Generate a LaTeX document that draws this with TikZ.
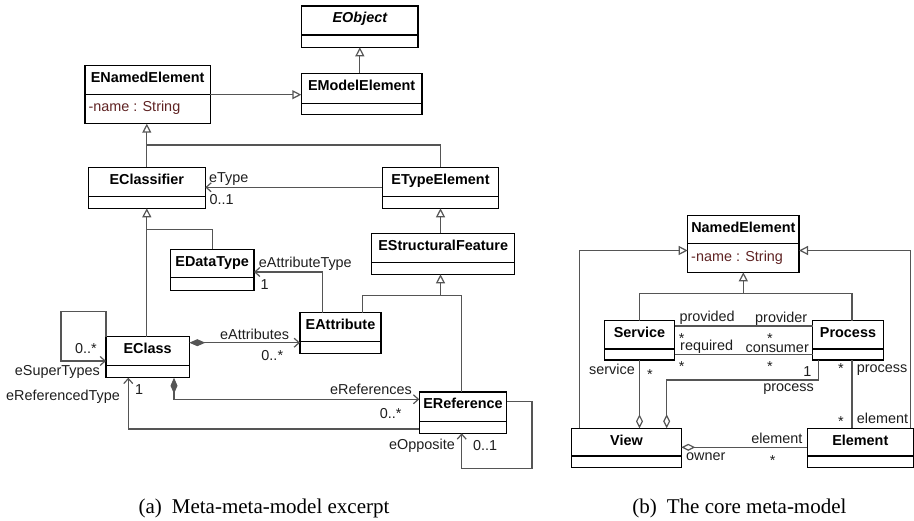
\documentclass[tikz,border=0pt]{standalone}
\usepackage{fontspec}
\setmainfont{Liberation Serif}
\setsansfont{Liberation Sans}
\usetikzlibrary{arrows.meta}

\definecolor{conngray}{RGB}{85,85,85}
\definecolor{attrc}{RGB}{95,35,35}
\definecolor{txt}{RGB}{30,30,30}

\tikzset{
 clsbox/.style={draw=black, line width=1.1pt, inner sep=0pt, outer sep=0pt},
 clsline/.style={draw=black, line width=1.1pt},
 clstitle/.style={font=\sffamily\bfseries\fontsize{14.4}{16}\selectfont, inner sep=0pt, text=black},
 clsattr/.style={font=\sffamily\fontsize{14.4}{16}\selectfont, inner sep=0pt, text=attrc},
 lbl/.style={font=\sffamily\fontsize{14.4}{16}\selectfont, inner sep=0pt, text=txt},
 connl/.style={draw=conngray, line width=1.2pt},
 gen/.style={connl, -{Triangle[length=9pt,width=9pt,fill=white]}},
 nav/.style={connl, -{Straight Barb[length=5pt,width=9pt]}},
 comp/.style={connl, {Diamond[length=16pt,width=7pt]}-{Straight Barb[length=5pt,width=9pt]}},
 agg/.style={connl, -{Diamond[length=14pt,width=7pt,fill=white]}},
 captxt/.style={font=\fontsize{21}{24}\selectfont, inner sep=0pt}
}

% #1 name, #2 x1, #3 y1, #4 x2, #5 ydiv, #6 y2, #7 title
\newcommand\umlcls[7]{%
  \node[clsbox, minimum width={(#4-#2)*1pt}, minimum height={(#6-#3)*1pt}, anchor=north west] (#1) at (#2,#3) {};
  \draw[clsline] (#2,#5) -- (#4,#5);
  \node[clstitle, anchor=base] (#1-t) at ({(#2+#4)/2},{#3+16.8}) {#7};
}
% #1 name, #2 x, #3 ydiv, #4 text
\newcommand\umlattr[4]{%
  \node[clsattr, anchor=base west] (#1-a) at ({#2+3.3},{#3+17.4}) {#4};
}
% star multiplicity centred on its glyph: #1 name, #2 x, #3 y
\newcommand\umlstar[3]{%
  \node[lbl, anchor=center] (#1) at (#2,#3) {\raisebox{-8.3pt}[2.2pt][2.2pt]{*}};
}

\begin{document}
\begin{tikzpicture}[x=1pt,y=-1pt]
\useasboundingbox (0,0) rectangle (914,521);

% ---------- (a) ----------
\umlcls{EObject}{301.7}{6}{418}{35}{47.3}{\itshape EObject}
\umlcls{EModelElement}{301.3}{73.3}{422}{103.3}{114.7}{EModelElement}
\umlcls{ENamedElement}{85}{65.7}{210.3}{94.3}{123.7}{ENamedElement}
\umlattr{ENamedElement}{85}{94.3}{-name : String}
\umlcls{EClassifier}{88.3}{167.3}{205.3}{196.7}{208.3}{EClassifier}
\umlcls{ETypeElement}{382.3}{167.3}{498.7}{196.7}{208.3}{ETypeElement}
\umlcls{EStructuralFeature}{371.7}{233.3}{514.7}{262.7}{274.3}{EStructuralFeature}
\umlcls{EDataType}{170.3}{249.3}{254}{277.7}{290.3}{EDataType}
\umlcls{EAttribute}{300}{312.7}{381}{341.7}{353.3}{EAttribute}
\umlcls{EClass}{106}{336.7}{189.3}{365.7}{377.7}{EClass}
\umlcls{EReference}{419.3}{392}{506.7}{421.7}{433.3}{EReference}

% generalizations
\draw[gen] (EObject.south |- EModelElement.north) -- (EObject.south);
\draw[gen] (ENamedElement.east |- 0,94.7) -- (EModelElement.west |- 0,94.7);
\draw[gen] (EClassifier.north) -- (EClassifier.north |- ENamedElement.south);
\draw[connl] (ETypeElement.north) |- (EClassifier.north |- 0,145);
\draw[gen] (ETypeElement.south |- EStructuralFeature.north) -- (ETypeElement.south);
\draw[gen] (EClassifier.south |- EClass.north) -- (EClassifier.south);
\draw[connl] (EDataType.north) |- (EClassifier.south |- 0,229.7);
\draw[gen] (ETypeElement.south |- 0,295.3) -- (ETypeElement.south |- EStructuralFeature.south);
\draw[connl] (EAttribute.north -| 362.7,0) |- (461.7,295.3) -- (EReference.north -| 461.7,0);

% associations
\draw[nav] (ETypeElement.west |- 0,187.3) -- (EClassifier.east |- 0,187.3);
\node[lbl, anchor=base west] (l-eType) at (209,182.3) {eType};
\node[lbl, anchor=base west] (l-eTypeM) at (209.3,205) {0..1};

\draw[nav] (EAttribute.north -| 322.7,0) |- (EDataType.east |- 0,272);
\node[lbl, anchor=base west] (l-eAT) at (258.7,267.3) {eAttributeType};
\node[lbl, anchor=base west] (l-eATM) at (260.3,289.3) {1};

\draw[nav] (EClass.north west) -- (EClass.north west |- 0,311.7) -| (61,361) -- (EClass.west |- 0,361);
\node[lbl, anchor=base east] (l-eSTM) at (97,353.3) {0..*};
\node[lbl, anchor=base east] (l-eST) at (100,376) {eSuperTypes};

\draw[comp] (EClass.east |- 0,342.7) -- (EAttribute.west |- 0,342.7);
\node[lbl, anchor=base west] (l-eAttr) at (220,339.3) {eAttributes};
\node[lbl, anchor=base east] (l-eAttrM) at (283.3,360.7) {0..*};

\draw[comp] (EClass.south -| 174,0) |- (EReference.west |- 0,399.3);
\node[lbl, anchor=base east] (l-eRef) at (412,395) {eReferences};
\node[lbl, anchor=base east] (l-eRefM) at (401.7,418.3) {0..*};

\draw[nav] (EReference.west |- 0,429) -| (EClass.south -| 128.3,0);
\node[lbl, anchor=base west] (l-eRTM) at (135,394.3) {1};
\node[lbl, anchor=base east] (l-eRT) at (120,400.7) {eReferencedType};

\draw[nav] (EReference.east |- 0,401.7) -| (532,468.3) -| (EReference.south -| 461.7,0);
\node[lbl, anchor=base east] (l-eOpp) at (455,450) {eOpposite};
\node[lbl, anchor=base west] (l-eOppM) at (473,451) {0..1};

% ---------- (b) ----------
\umlcls{NamedElement}{687.7}{215.7}{799}{243.7}{272.3}{NamedElement}
\umlattr{NamedElement}{687.7}{243.7}{-name : String}
\umlcls{Service}{604.3}{320.7}{674.7}{349}{360}{Service}
\umlcls{Process}{812.7}{320.7}{883.3}{349}{360}{Process}
\umlcls{View}{571.7}{428.3}{681.3}{456}{467.7}{View}
\umlcls{Element}{807.3}{428.3}{913.3}{456}{467.7}{Element}

\draw[gen] (NamedElement.south |- 0,293.7) -- (NamedElement.south);
\draw[connl] (Service.north) |- (852,293.7) -- (Process.north -| 852,0);
\draw[gen] (View.north -| 579.3,0) |- (NamedElement.west |- 0,250.5);
\draw[gen] (Element.north -| 910.7,0) |- (NamedElement.east |- 0,250.5);

\draw[connl] (Service.east |- 0,326) -- (Process.west |- 0,326);
\node[lbl, anchor=base west] (l-prvd) at (679.3,321.5) {provided};
\node[lbl, anchor=base west] (l-prvr) at (755,323) {provider};
\umlstar{s1}{681.7}{335.5}
\umlstar{s2}{770}{335.5}

\draw[connl] (Service.east |- 0,354.3) -- (Process.west |- 0,354.3);
\node[lbl, anchor=base west] (l-req) at (680,350.3) {required};
\node[lbl, anchor=base east] (l-cons) at (809,353) {consumer};
\umlstar{s3}{681.7}{363.3}
\umlstar{s4}{770}{363.3}

\draw[agg] (Service.south) -- (View.north -| Service.south);
\node[lbl, anchor=base east] (l-serv) at (635,374.3) {service};
\umlstar{s5}{650}{371.7}

\draw[agg] (Process.south -| 818.7,0) |- (666.7,380) -- (View.north -| 666.7,0);
\node[lbl, anchor=base] (l-p1) at (807.3,376.7) {1};
\node[lbl, anchor=base east] (l-proc1) at (814,391.7) {process};

\draw[connl] (Process.south -| 852,0) -- (Element.north -| 852,0);
\umlstar{s6}{841}{365.3}
\node[lbl, anchor=base west] (l-proc2) at (856.7,372.7) {process};
\umlstar{s7}{841}{418.3}
\node[lbl, anchor=base west] (l-elem1) at (856.7,423.3) {element};

\draw[agg] (Element.west |- 0,447.3) -- (View.east |- 0,447.3);
\node[lbl, anchor=base east] (l-elem2) at (802.7,443.3) {element};
\node[lbl, anchor=base west] (l-own) at (686,460.7) {owner};
\umlstar{s8}{772.7}{457.3}

% captions
\node[captxt, anchor=base west] (capa) at (138.4,514) {(a)\hskip 10pt Meta-meta-model excerpt};
\node[captxt, anchor=base west] (capb) at (632.2,514) {(b)\hskip 10pt The core meta-model};
\end{tikzpicture}
\end{document}
